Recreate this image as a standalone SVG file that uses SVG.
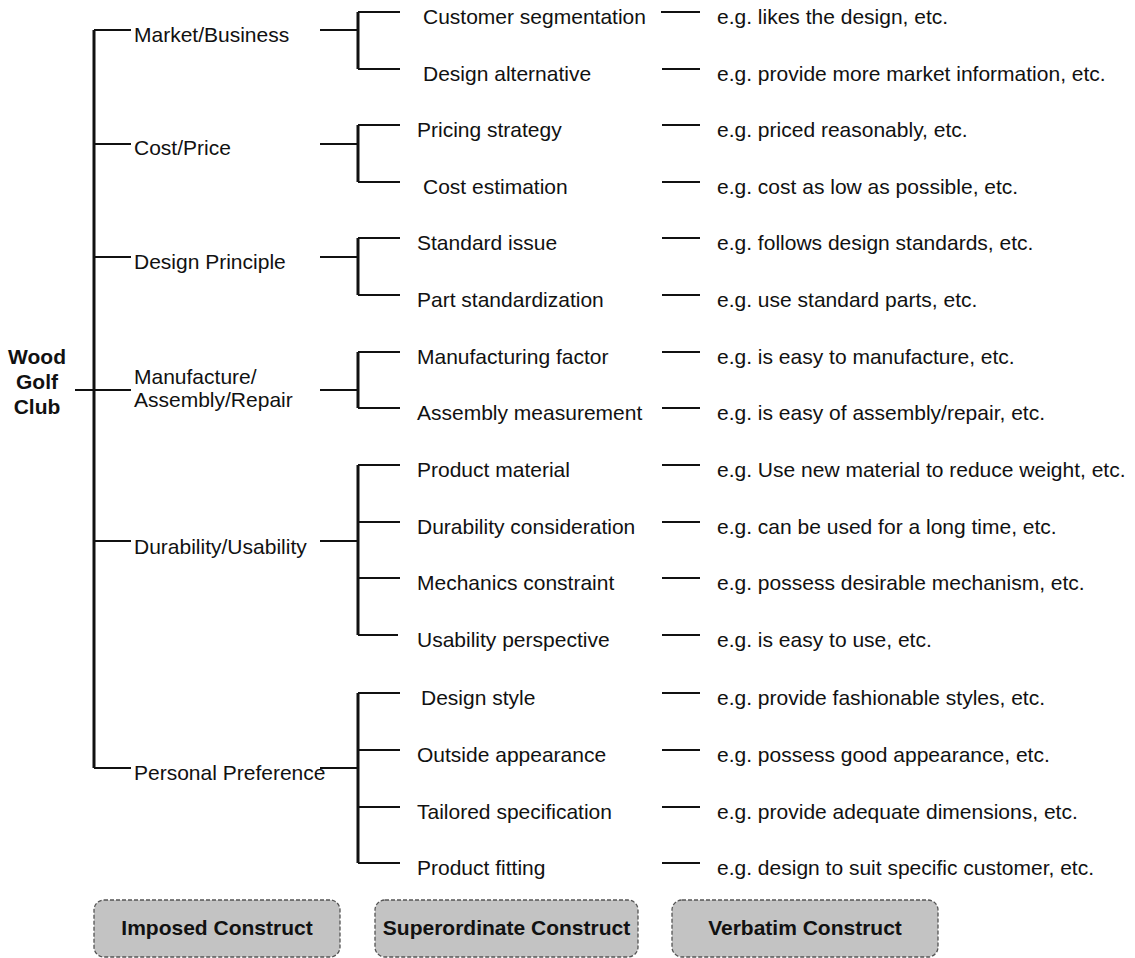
<svg xmlns="http://www.w3.org/2000/svg" width="1135" height="958" viewBox="0 0 1135 958">
<style>
text{font-family:"Liberation Sans",Arial,sans-serif;font-size:21px;fill:#111}
.b{font-weight:bold}
.c{text-anchor:middle}
.thick{stroke:#111;stroke-width:3;fill:none}
.thin{stroke:#111;stroke-width:2;fill:none}
.box{fill:#c3c3c3;stroke:#555;stroke-width:1.3;stroke-dasharray:4 2}
</style>
<rect width="1135" height="958" fill="#fff"/>
<g id="connectors">
<path class="thick" d="M94,30 V768"/>
<path class="thin" d="M75,390 H94 M94,30 H131 M94,144 H131 M94,257 H131 M94,390 H131 M94,541 H131 M94,768 H131"/>
<path class="thin" d="M320,30 H358 M320,144 H358 M320,257 H358 M320,390 H358 M320,541 H358 M320,768 H358"/>
<path class="thick" d="M358,12 V69 M358,125 V182 M358,238 V295 M358,352 V408 M358,465 V635 M358,693 V863"/>
<path class="thin" d="M358,12 H400 M358,69 H400 M358,125 H400 M358,182 H400 M358,238 H400 M358,295 H400 M358,352 H400 M358,408 H400 M358,465 H400 M358,522 H400 M358,578 H400 M358,635 H398 M358,693 H400 M358,750 H400 M358,807 H400 M358,863 H400"/>
<path class="thin" d="M661,12 H700 M662,69 H700 M662,125 H700 M662,182 H700 M662,238 H700 M662,295 H700 M662,352 H700 M662,408 H700 M662,465 H700 M662,522 H700 M662,578 H700 M662,635 H700 M662,693 H700 M662,750 H700 M662,807 H700 M662,863 H700"/>
</g>
<g id="root"><text class="b c" x="37" y="364">Wood</text><text class="b c" x="37" y="389">Golf</text><text class="b c" x="37" y="414">Club</text></g>
<g id="cat-market"><text x="134" y="42">Market/Business</text></g>
<g id="cat-cost"><text x="134" y="155">Cost/Price</text></g>
<g id="cat-design"><text x="134" y="269">Design Principle</text></g>
<g id="cat-manufacture"><text x="134" y="384">Manufacture/</text><text x="134" y="407">Assembly/Repair</text></g>
<g id="cat-durability"><text x="134" y="554">Durability/Usability</text></g>
<g id="cat-personal"><text x="134" y="780">Personal Preference</text></g>
<g id="sub1"><text x="423" y="24">Customer segmentation</text></g>
<g id="sub2"><text x="423" y="81">Design alternative</text></g>
<g id="sub3"><text x="417" y="137">Pricing strategy</text></g>
<g id="sub4"><text x="423" y="194">Cost estimation</text></g>
<g id="sub5"><text x="417" y="250">Standard issue</text></g>
<g id="sub6"><text x="417" y="307">Part standardization</text></g>
<g id="sub7"><text x="417" y="364">Manufacturing factor</text></g>
<g id="sub8"><text x="417" y="420">Assembly measurement</text></g>
<g id="sub9"><text x="417" y="477">Product material</text></g>
<g id="sub10"><text x="417" y="534">Durability consideration</text></g>
<g id="sub11"><text x="417" y="590">Mechanics constraint</text></g>
<g id="sub12"><text x="417" y="647">Usability perspective</text></g>
<g id="sub13"><text x="421" y="705">Design style</text></g>
<g id="sub14"><text x="417" y="762">Outside appearance</text></g>
<g id="sub15"><text x="417" y="819">Tailored specification</text></g>
<g id="sub16"><text x="417" y="875">Product fitting</text></g>
<g id="v1"><text x="717" y="24">e.g. likes the design, etc.</text></g>
<g id="v2"><text x="717" y="81">e.g. provide more market information, etc.</text></g>
<g id="v3"><text x="717" y="137">e.g. priced reasonably, etc.</text></g>
<g id="v4"><text x="717" y="194">e.g. cost as low as possible, etc.</text></g>
<g id="v5"><text x="717" y="250">e.g. follows design standards, etc.</text></g>
<g id="v6"><text x="717" y="307">e.g. use standard parts, etc.</text></g>
<g id="v7"><text x="717" y="364">e.g. is easy to manufacture, etc.</text></g>
<g id="v8"><text x="717" y="420">e.g. is easy of assembly/repair, etc.</text></g>
<g id="v9"><text x="717" y="477">e.g. Use new material to reduce weight, etc.</text></g>
<g id="v10"><text x="717" y="534">e.g. can be used for a long time, etc.</text></g>
<g id="v11"><text x="717" y="590">e.g. possess desirable mechanism, etc.</text></g>
<g id="v12"><text x="717" y="647">e.g. is easy to use, etc.</text></g>
<g id="v13"><text x="717" y="705">e.g. provide fashionable styles, etc.</text></g>
<g id="v14"><text x="717" y="762">e.g. possess good appearance, etc.</text></g>
<g id="v15"><text x="717" y="819">e.g. provide adequate dimensions, etc.</text></g>
<g id="v16"><text x="717" y="875">e.g. design to suit specific customer, etc.</text></g>
<g id="legend-imposed"><rect class="box" x="94" y="900" width="246" height="57" rx="10"/><text class="b c" x="217" y="935">Imposed Construct</text></g>
<g id="legend-superordinate"><rect class="box" x="375" y="900" width="263" height="57" rx="10"/><text class="b c" x="506.5" y="935">Superordinate Construct</text></g>
<g id="legend-verbatim"><rect class="box" x="672" y="900" width="266" height="57" rx="10"/><text class="b c" x="805" y="935">Verbatim Construct</text></g>
</svg>
